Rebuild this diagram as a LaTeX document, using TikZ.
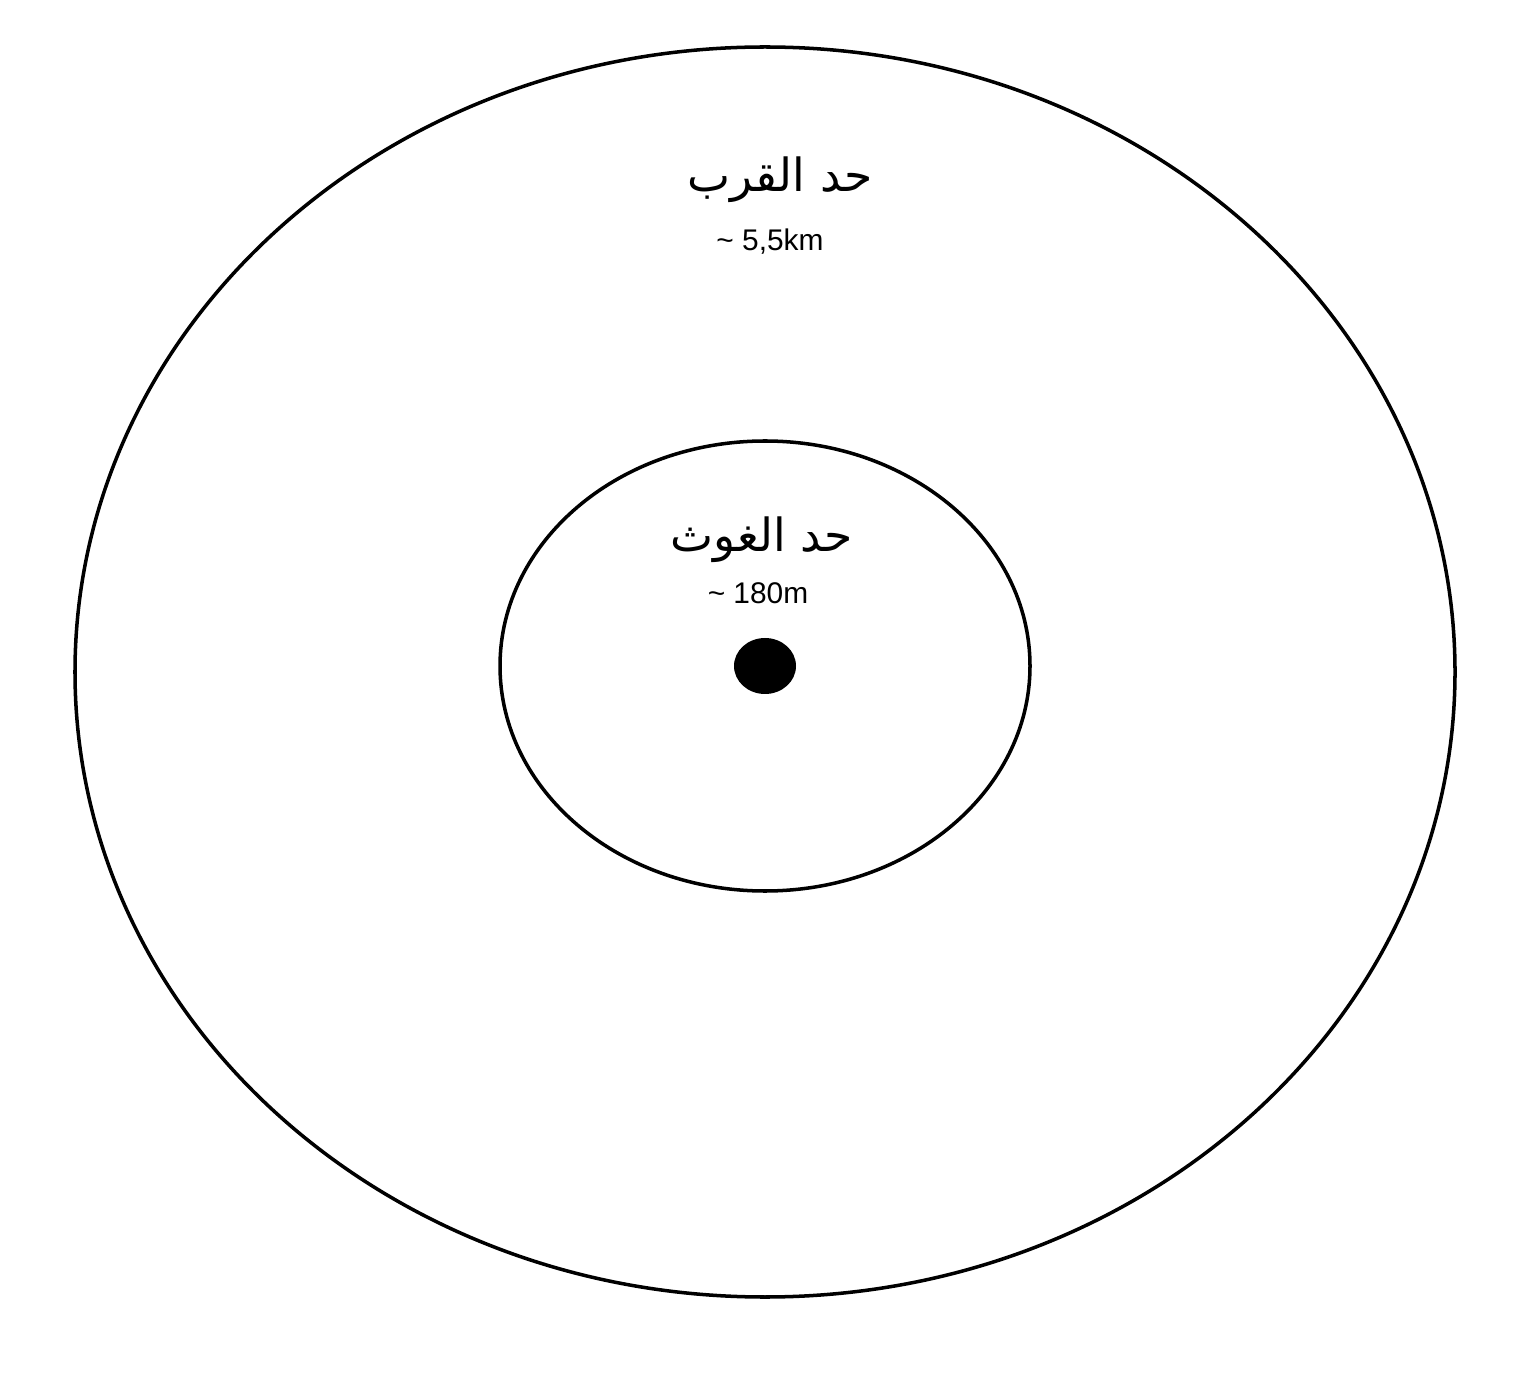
\documentclass[tikz,border=0pt]{standalone}
\usepackage{fontspec}
\setmainfont{Liberation Sans}
\newfontfamily\arabicfont[Script=Arabic]{DejaVu Sans}
\TeXXeTstate=1
\begin{document}
\begin{tikzpicture}[
    zone/.style={draw, line width=1pt},
    zonename/.style={font=\arabicfont\fontsize{13}{15}\selectfont, inner sep=0pt},
    dist/.style={font=\fontsize{8.5}{10}\selectfont, inner sep=0pt}
]
    \useasboundingbox (0,0) rectangle (15.36,13.85);
    \fill[white] (0,0) rectangle (15.36,13.85);

    \draw[zone] (7.65,7.13) ellipse [x radius=6.90, y radius=6.25];
    \draw[zone] (7.65,7.19) ellipse [x radius=2.65, y radius=2.25];
    \fill (7.65,7.19) ellipse [x radius=0.31, y radius=0.28];

    \node[zonename] (outer) at (7.80,12.05) {\beginR حد القرب\endR};
    \node[dist] (outerd) at (7.70,11.43) {\textasciitilde{} 5,5km};

    \node[zonename] (inner) at (7.62,8.45) {\beginR حد الغوث\endR};
    \node[dist] (innerd) at (7.58,7.92) {\textasciitilde{} 180m};
\end{tikzpicture}
\end{document}
